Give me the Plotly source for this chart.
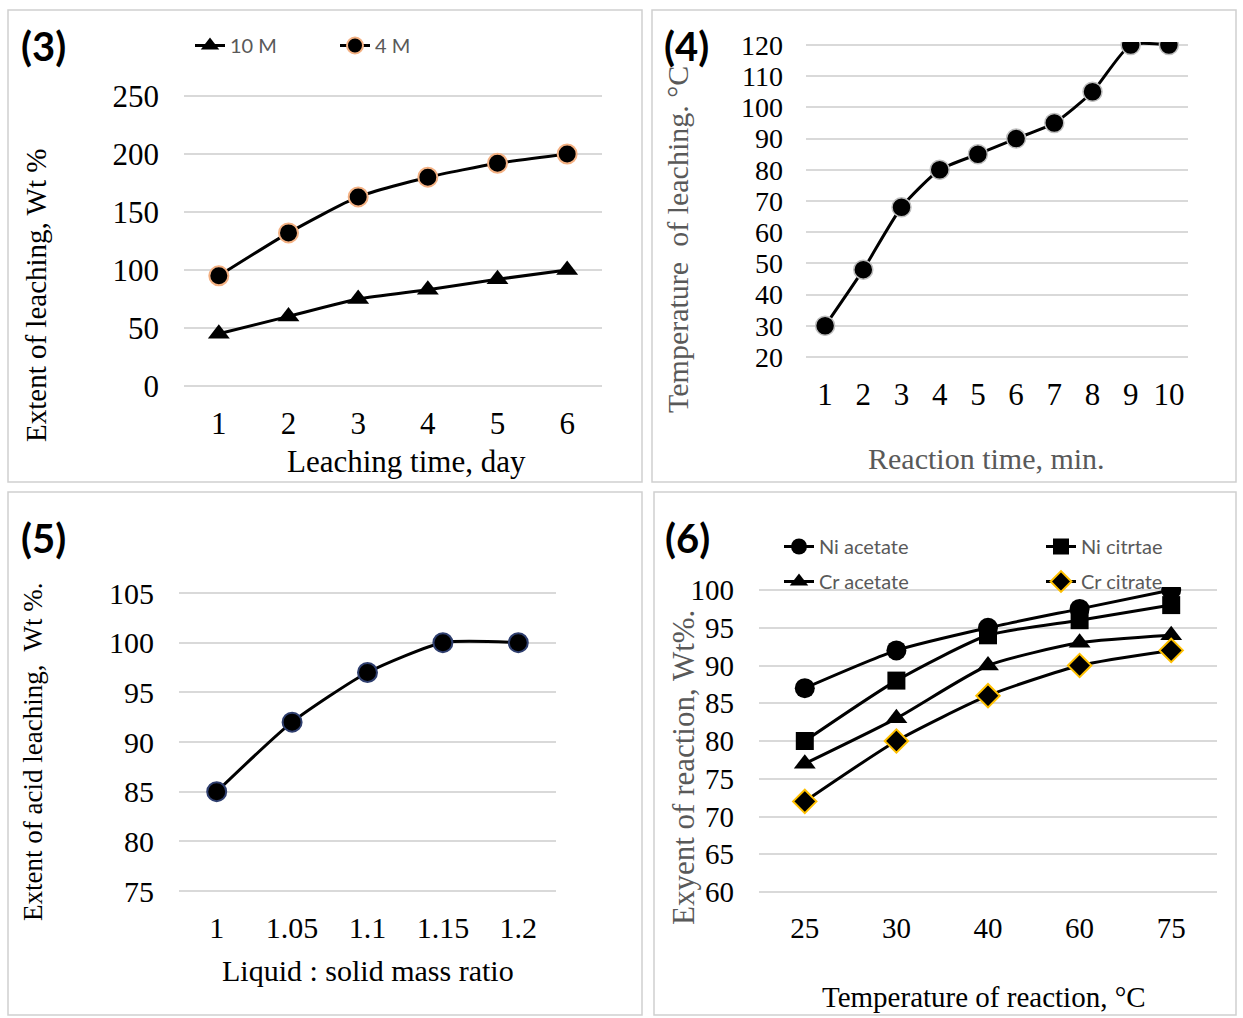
import plotly.graph_objects as go

W, H = 1243, 1018

# ---------------- data ----------------
p3_days = [1, 2, 3, 4, 5, 6]
p3_10M = [45, 60, 75, 83, 92, 100]
p3_4M = [95, 132, 163, 180, 192, 200]

p4_time = [1, 2, 3, 4, 5, 6, 7, 8, 9, 10]
p4_temp = [30, 48, 68, 80, 85, 90, 95, 105, 120, 120]

p5_ratio = ["1", "1.05", "1.1", "1.15", "1.2"]
p5_ext = [85, 92, 97, 100, 100]

p6_temp = ["25", "30", "40", "60", "75"]
p6_ni_acetate = [87, 92, 95, 97.5, 100]
p6_ni_citrate = [80, 88, 94, 96, 98]
p6_cr_acetate = [77, 83, 90, 93, 94]
p6_cr_citrate = [72, 80, 86, 90, 92]


def X(p):
    return p / W


def Y(p):
    return 1 - p / H


SERIF = "Liberation Serif"
SANS = "Lato"
GREY = "#595959"
GRID = "#D9D9D9"
LINE = dict(color="black", width=3, shape="spline", smoothing=0.6)

fig = go.Figure()

# Panel (3)
fig.add_trace(go.Scatter(x=p3_days, y=p3_10M, name="10 M", mode="lines+markers",
                         line=LINE, marker=dict(symbol="triangle-up", size=19, color="black"),
                         xaxis="x", yaxis="y", legend="legend"))
fig.add_trace(go.Scatter(x=p3_days, y=p3_4M, name="4 M", mode="lines+markers",
                         line=LINE, marker=dict(symbol="circle", size=19, color="black",
                                                line=dict(color="#F4B183", width=2)),
                         xaxis="x", yaxis="y", legend="legend"))

# Panel (4)
fig.add_trace(go.Scatter(x=p4_time, y=p4_temp, mode="lines+markers", showlegend=False,
                         line=LINE, marker=dict(symbol="circle", size=19, color="black",
                                                line=dict(color="#BFBFBF", width=1.5)),
                         xaxis="x2", yaxis="y2"))

# Panel (5)
fig.add_trace(go.Scatter(x=p5_ratio, y=p5_ext, mode="lines+markers", showlegend=False,
                         line=LINE, marker=dict(symbol="circle", size=19, color="black",
                                                line=dict(color="#2F3F6F", width=2)),
                         xaxis="x3", yaxis="y3"))

# Panel (6)
fig.add_trace(go.Scatter(x=p6_temp, y=p6_ni_acetate, name="Ni acetate", mode="lines+markers",
                         line=LINE, marker=dict(symbol="circle", size=20, color="black"),
                         xaxis="x4", yaxis="y4", legend="legend3", legendgroup="a"))
fig.add_trace(go.Scatter(x=p6_temp, y=p6_cr_acetate, name="Cr acetate", mode="lines+markers",
                         line=LINE, marker=dict(symbol="triangle-up", size=19, color="black"),
                         xaxis="x4", yaxis="y4", legend="legend3", legendgroup="b"))
fig.add_trace(go.Scatter(x=p6_temp, y=p6_ni_citrate, name="Ni citrtae", mode="lines+markers",
                         line=LINE, marker=dict(symbol="square", size=18, color="black"),
                         xaxis="x4", yaxis="y4", legend="legend4", legendgroup="c"))
fig.add_trace(go.Scatter(x=p6_temp, y=p6_cr_citrate, name="Cr citrate", mode="lines+markers",
                         line=LINE, marker=dict(symbol="diamond", size=18, color="black",
                                                line=dict(color="#FFC000", width=2)),
                         xaxis="x4", yaxis="y4", legend="legend4", legendgroup="d"))


def tf(size):
    return dict(family=SERIF, size=size, color="black")


PAD = 3  # px padding so that the edge grid lines are kept


def xax(dom, size, **kw):
    d = dict(domain=[X(dom[0]), X(dom[1])], showgrid=False, zeroline=False, showline=False,
             ticks="", tickfont=tf(size), ticklabelstandoff=13, fixedrange=True,
             automargin=False)
    d.update(kw)
    return d


def yax(top, bottom, vmin, vmax, size, **kw):
    u = (vmax - vmin) / (bottom - top)
    d = dict(domain=[Y(bottom + PAD), Y(top - PAD)], range=[vmin - PAD * u, vmax + PAD * u],
             showgrid=True, gridcolor=GRID, gridwidth=1.5,
             zeroline=False, showline=False, ticks="", tickfont=tf(size),
             ticklabelstandoff=24, fixedrange=True, automargin=False)
    d.update(kw)
    return d


legfont = dict(family=SANS, size=20, color=GREY)

layout = dict(
    width=W, height=H, margin=dict(l=0, r=0, t=0, b=0, autoexpand=False),
    paper_bgcolor="white", plot_bgcolor="white",
    xaxis=xax((184, 602), 31, anchor="y", range=[0.5, 6.5], dtick=1),
    yaxis=yax(96, 386, 0, 250, 31, anchor="x", dtick=50),
    xaxis2=xax((806, 1188), 31, anchor="y2", range=[0.5, 10.5], dtick=1),
    yaxis2=yax(45, 357, 20, 120, 28, anchor="x2", dtick=10, ticklabelstandoff=22),
    xaxis3=xax((179, 556), 30, anchor="y3", type="category", range=[-0.5, 4.5]),
    yaxis3=yax(593, 891, 75, 105, 30, anchor="x3", dtick=5),
    xaxis4=xax((759, 1217), 29, anchor="y4", type="category", range=[-0.5, 4.5]),
    yaxis4=yax(590, 892, 60, 100, 29, anchor="x4", dtick=5),
    legend=dict(orientation="h", x=X(190), y=Y(26), xanchor="left", yanchor="top",
                font=legfont, bgcolor="rgba(0,0,0,0)", entrywidth=100),
    legend3=dict(orientation="v", x=X(779), y=Y(527), xanchor="left", yanchor="top",
                 font=legfont, bgcolor="rgba(0,0,0,0)", tracegroupgap=6),
    legend4=dict(orientation="v", x=X(1041), y=Y(527), xanchor="left", yanchor="top",
                 font=legfont, bgcolor="rgba(0,0,0,0)", tracegroupgap=6),
)
fig.update_layout(**layout)

# panel borders
for (x0, y0, x1, y1) in [(8, 10, 642, 482), (652, 10, 1236, 482), (8, 492, 642, 1015), (654, 492, 1236, 1015)]:
    fig.add_shape(type="rect", xref="paper", yref="paper", x0=X(x0), x1=X(x1), y0=Y(y1), y1=Y(y0),
                  line=dict(color="#D0D0D0", width=1.5), fillcolor="rgba(0,0,0,0)", layer="below")


def ann(text, x, y, size, color="black", family=SERIF, angle=0, bold=False, xanchor="center"):
    if bold:
        text = "<b>" + text + "</b>"
    fig.add_annotation(text=text, x=X(x), y=Y(y), xref="paper", yref="paper", showarrow=False,
                       xanchor=xanchor, yanchor="middle", textangle=angle,
                       font=dict(family=family, size=size, color=color))


# panel labels
ann("(3)", 19, 46, 40, family=SANS, bold=True, xanchor="left")
ann("(4)", 662, 46, 40, family=SANS, bold=True, xanchor="left")
ann("(5)", 19, 538, 40, family=SANS, bold=True, xanchor="left")
ann("(6)", 663, 538, 40, family=SANS, bold=True, xanchor="left")

# axis titles
ann("Leaching time, day", 406, 461, 31)
ann("Extent of leaching, Wt %", 36, 296, 29, angle=-90)
ann("Reaction time, min.", 986, 459, 30, color=GREY)
ann("Temperature  of leaching. °C", 677, 240, 30, color=GREY, angle=-90)
ann("Liquid : solid mass ratio", 368, 970, 30)
ann("Extent of acid leaching,  Wt %.", 33, 752, 27, angle=-90)
ann("Temperature of reaction, °C", 984, 997, 29)
ann("Exyent of reaction, Wt%.", 683, 768, 31, color=GREY, angle=-90)

fig.write_html("out.html", config={"displayModeBar": False},
               post_script="document.body.style.margin='0';")
